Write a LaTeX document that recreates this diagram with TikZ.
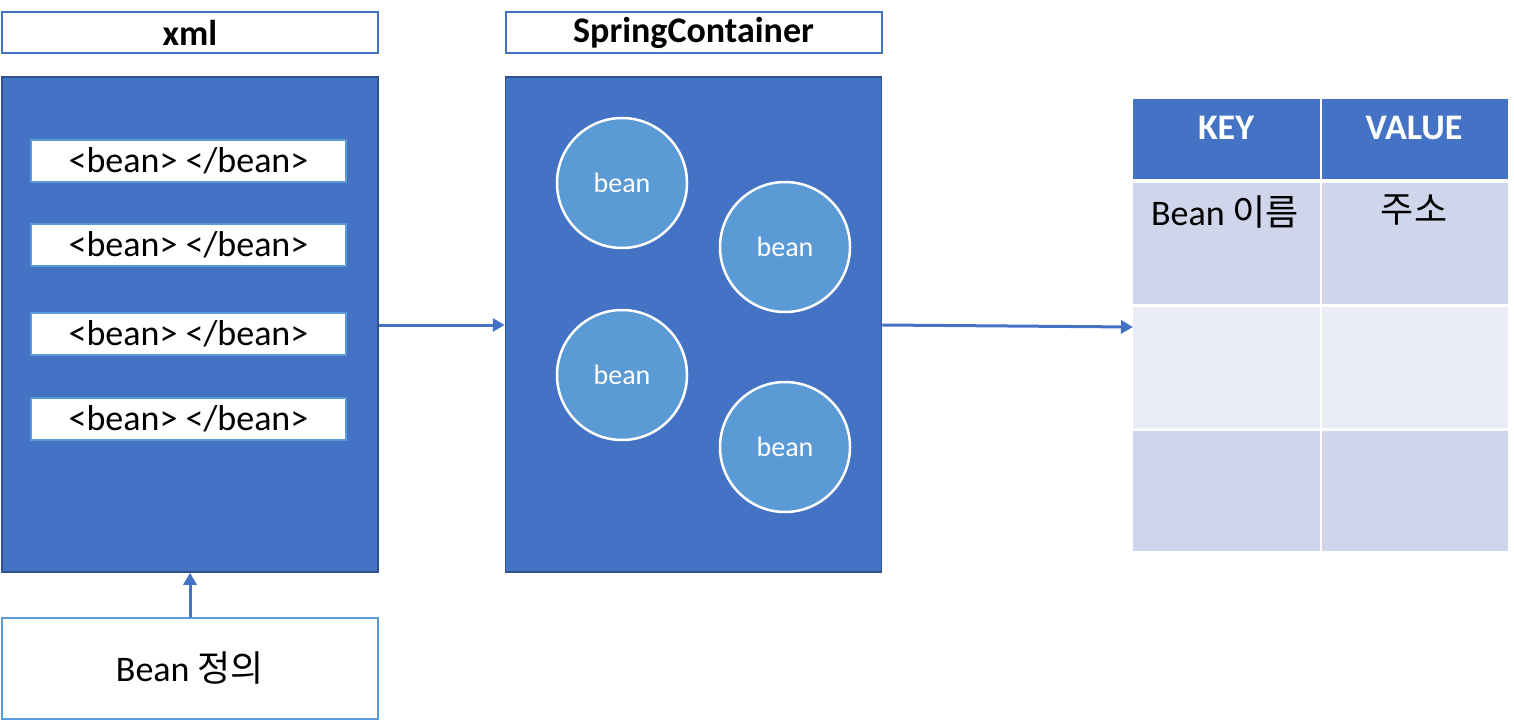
\documentclass[tikz,border=0pt]{standalone}
\usepackage{fontspec}
\setmainfont{Carlito}
\newfontfamily\kr{Noto Sans CJK KR}
\usetikzlibrary{arrows.meta}
\definecolor{mainblue}{HTML}{4472C4}
\definecolor{darkblue}{HTML}{2F528F}
\definecolor{lightblue}{HTML}{5B9BD5}
\definecolor{rowA}{HTML}{CFD5EA}
\definecolor{rowB}{HTML}{E9EBF5}
\begin{document}
\begin{tikzpicture}[x=1pt,y=-1pt,
  header/.style={draw=mainblue,line width=2pt,fill=white,minimum width=376pt,minimum height=41pt,inner sep=0pt,font=\fontsize{36}{42}\selectfont\bfseries},
  bigbox/.style={draw=darkblue,line width=1.5pt,fill=mainblue,minimum width=376pt,minimum height=495pt,inner sep=0pt},
  beanrow/.style={draw=lightblue,line width=2pt,fill=white,minimum width=315pt,minimum height=42pt,inner sep=0pt,font=\fontsize{36}{42}\selectfont},
  beancirc/.style={circle,draw=white,line width=2.5pt,fill=lightblue,minimum size=130pt,inner sep=0pt,text=white,font=\fontsize{28}{32}\selectfont},
  conn/.style={draw=mainblue,line width=3pt,-{Triangle[length=12pt,width=13pt]}},
  celltext/.style={font=\fontsize{36}{42}\selectfont},
]
\useasboundingbox (0,0) rectangle (1514,722);
% xml column
\node[header] (xmlh) at (190,33) {xml};
\node[bigbox] (xml) at (190,324.5) {};
\node[beanrow] (r1) at (188.5,161) {<bean> </bean>};
\node[beanrow] (r2) at (188.5,245) {<bean> </bean>};
\node[beanrow] (r3) at (188.5,334) {<bean> </bean>};
\node[beanrow] (r4) at (188.5,419) {<bean> </bean>};
\node[draw=lightblue,line width=2pt,fill=white,minimum width=376pt,minimum height=101pt,inner sep=0pt,font=\fontsize{36}{42}\selectfont] (def) at (190,668.5) {Bean {\kr 정의}};
% spring column
\node[header] (sph) at (693.5,33) {SpringContainer};
\node[bigbox] (sp) at (693.5,324.5) {};
\node[beancirc] (b1) at (622,183) {bean};
\node[beancirc] (b2) at (785,247) {bean};
\node[beancirc] (b3) at (622,375) {bean};
\node[beancirc] (b4) at (785,447) {bean};
% table
\fill[mainblue] (1133,99) rectangle (1508,179);
\fill[rowA] (1133,183) rectangle (1508,304);
\fill[rowB] (1133,307) rectangle (1508,428);
\fill[rowA] (1133,431) rectangle (1508,551);
\draw[white,line width=2pt] (1320.5,99) -- (1320.5,551);
\node[font=\fontsize{36}{42}\selectfont\bfseries,text=white] (key) at (1226,128) {KEY};
\node[font=\fontsize{36}{42}\selectfont\bfseries,text=white] (val) at (1414,128) {VALUE};
\node[celltext] (k1) at (1225,212) {Bean {\kr 이름}};
\node[celltext] (v1) at (1414,210) {\kr 주소};
\coordinate (tin) at (1133,327);
% connectors
\draw[conn] (xml.east |- 0,325) -- (sp.west |- 0,325);
\draw[conn] (sp.east |- 0,325) -- (tin);
\draw[conn] (def.north) -- (xml.south);
\end{tikzpicture}
\end{document}
